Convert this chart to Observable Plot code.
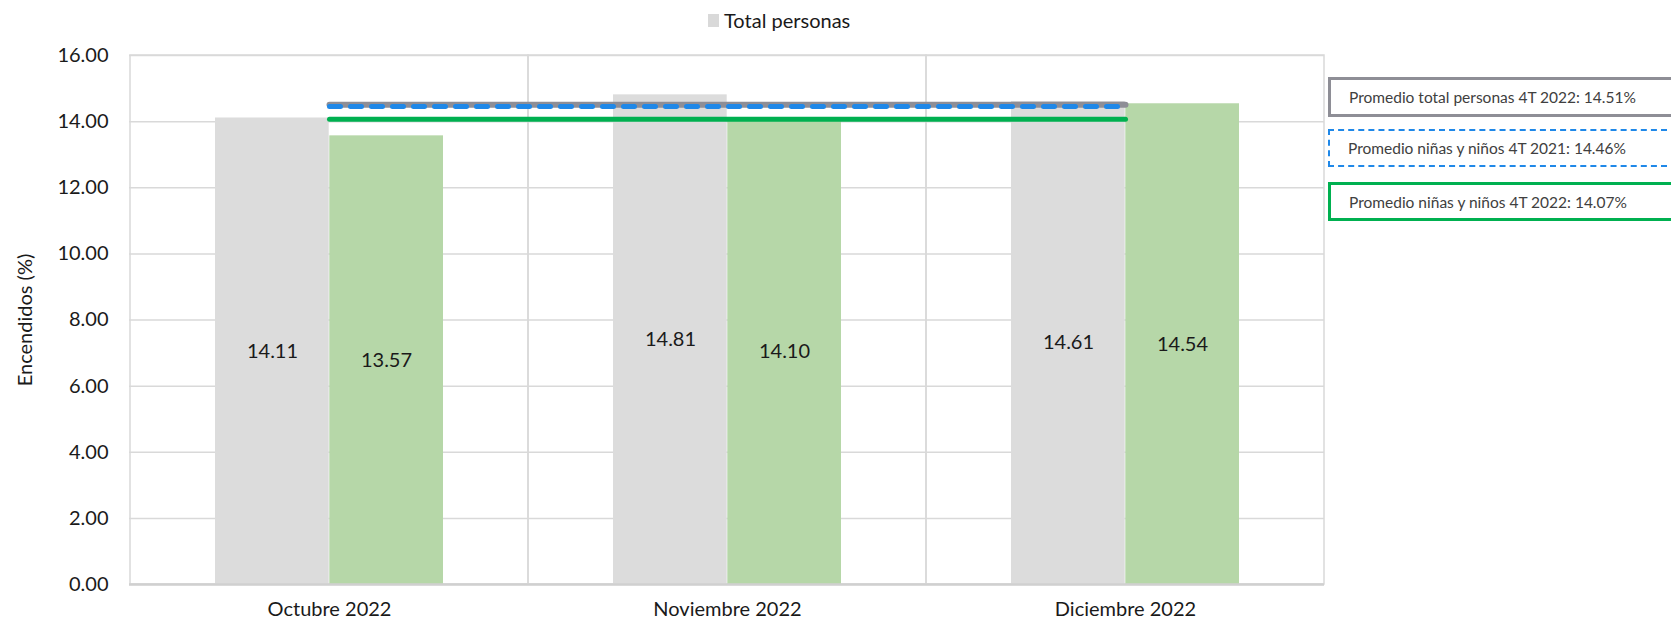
<!DOCTYPE html>
<html>
<head>
<meta charset="utf-8">
<script src="https://cdn.jsdelivr.net/npm/d3@7"></script>
<script src="https://cdn.jsdelivr.net/npm/@observablehq/plot@0.6"></script>
<style>
  html, body { margin: 0; padding: 0; background: #fff; overflow: hidden; }
  body { width: 1671px; height: 622px; position: relative; font-family: Lato, "Open Sans", sans-serif; color: #1a1a1a; }
  #legend { height: 40px; position: relative; }
  #legend .item { position: absolute; left: 708px; top: 8px; font-size: 20px; line-height: 24px; display: flex; align-items: center; }
  #legend .sw { width: 11px; height: 13px; background: #d9d9d9; margin-right: 5px; }
  .box { position: absolute; left: 1328px; width: 450px; box-sizing: border-box; font-size: 15.5px; color: #404040; padding-left: 18px; display: flex; align-items: center; background: #fff; }
</style>
</head>
<body>
<div id="legend"><div class="item"><span class="sw"></span><span>Total personas</span></div></div>
<div id="chart"></div>
<script>
const months = ["Octubre 2022", "Noviembre 2022", "Diciembre 2022"];
const totalPersonas = [14.11, 14.81, 14.61];
const ninasNinos = [13.57, 14.10, 14.54];
const yTicks = [0, 2, 4, 6, 8, 10, 12, 14, 16];
const promedioTotal2022 = 14.51;
const promedioNinos2021 = 14.46;
const promedioNinos2022 = 14.07;
const refLabels = [
  "Promedio total personas 4T 2022: 14.51%",
  "Promedio niñas y niños 4T 2021: 14.46%",
  "Promedio niñas y niños 4T 2022: 14.07%"
];

const gray = months.map((m, i) => ({month: m, value: totalPersonas[i]}));
const green = months.map((m, i) => ({month: m, value: ninasNinos[i]}));
const fmt = d3.format(".2f");

const chart = Plot.plot({
  width: 1671,
  height: 582,
  marginTop: 15,
  marginBottom: 38,
  marginLeft: 129,
  marginRight: 347,
  style: {fontFamily: "Lato, 'Open Sans', sans-serif", fontSize: "20px", color: "#1a1a1a", background: "#fff"},
  x: {domain: months, padding: 0},
  y: {domain: [0, 16]},
  marks: [
    Plot.gridY(yTicks, {stroke: "#d9d9d9", strokeOpacity: 1, strokeWidth: 1.5}),
    Plot.barY(months, {x: d => d, y1: 0, y2: 16, fill: "none", stroke: "#d9d9d9", strokeWidth: 1.5}),
    Plot.barY(gray, {x: "month", y: "value", fill: "#dcdcdc", insetLeft: 85, insetRight: 199.3}),
    Plot.barY(green, {x: "month", y: "value", fill: "#b6d7a8", insetLeft: 199.3, insetRight: 85}),
    Plot.ruleY([0], {stroke: "#d0d0d0", strokeWidth: 2.5}),
    Plot.lineY(months, {x: d => d, y: () => promedioTotal2022, stroke: "#8e8e96", strokeWidth: 6}),
    Plot.lineY(months, {x: d => d, y: () => promedioNinos2021, stroke: "#1f88e8", strokeWidth: 5, strokeDasharray: "11,10", strokeLinecap: "round"}),
    Plot.lineY(months, {x: d => d, y: () => promedioNinos2022, stroke: "#00b050", strokeWidth: 5, strokeLinecap: "round"}),
    Plot.text(gray, {x: "month", y: d => d.value / 2, text: d => fmt(d.value), dx: -57, fontSize: 20, fill: "#1a1a1a"}),
    Plot.text(green, {x: "month", y: d => d.value / 2, text: d => fmt(d.value), dx: 57, fontSize: 20, fill: "#1a1a1a"}),
    Plot.axisX({tickSize: 0, tickPadding: 17, label: null, fontSize: 20}),
    Plot.axisY(yTicks, {tickSize: 0, tickPadding: 21, tickFormat: fmt, label: "Encendidos (%)", labelAnchor: "center", labelArrow: "none", labelOffset: 112, fontSize: 20})
  ]
});
document.getElementById("chart").appendChild(chart);

const boxStyles = [
  {top: 77, height: 40, border: "3px solid #8e8e96"},
  {top: 129, height: 38, border: "2px dashed #1f88e8"},
  {top: 182, height: 39, border: "3px solid #00b050"}
];
refLabels.forEach((t, i) => {
  const b = document.createElement("div");
  b.className = "box";
  b.style.top = boxStyles[i].top + "px";
  b.style.height = boxStyles[i].height + "px";
  b.style.border = boxStyles[i].border;
  b.textContent = t;
  document.body.appendChild(b);
});
</script>
</body>
</html>
